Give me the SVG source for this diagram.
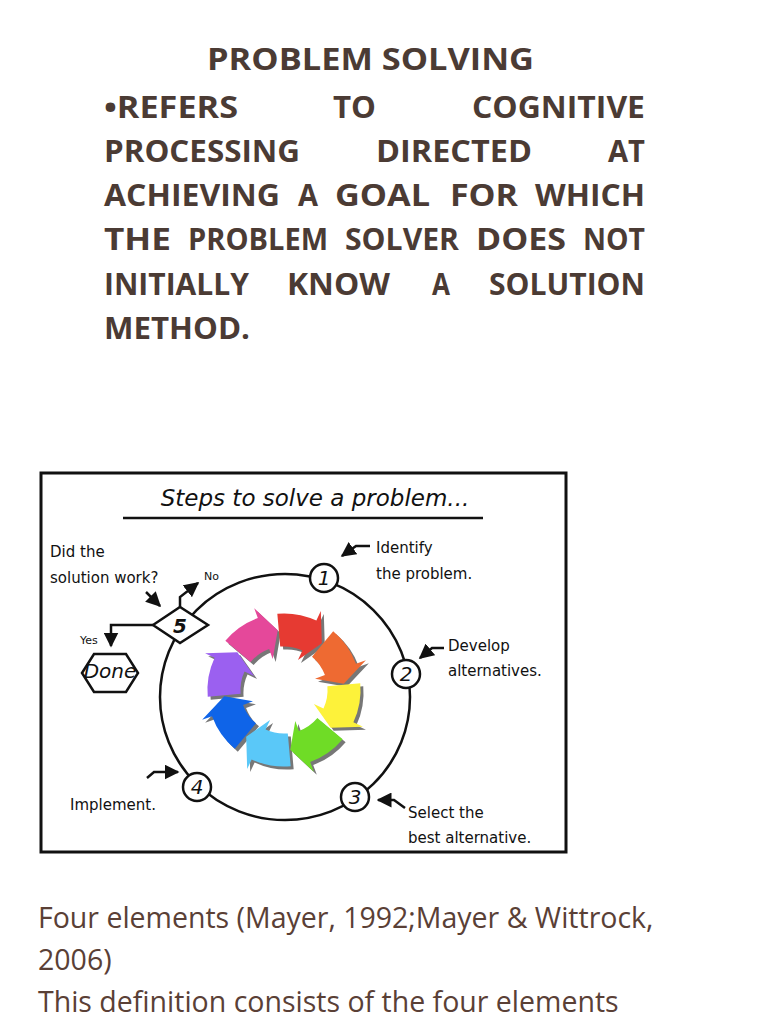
<svg xmlns="http://www.w3.org/2000/svg" width="768" height="1024" viewBox="0 0 768 1024">
<style>
.h{font-family:"Open Sans",sans-serif;font-weight:bold;font-size:30px;fill:#4b3b34}
.b{font-family:"Open Sans",sans-serif;font-size:28.5px;fill:#5a4036}
.c{font-family:"DejaVu Sans",sans-serif;font-size:15px;fill:#111}
.n{font-family:"DejaVu Sans",sans-serif;font-size:20px;font-style:italic;fill:#111;text-anchor:middle}
.ln{fill:none;stroke:#111;stroke-width:2.5}
.nd{fill:#fff;stroke:#111;stroke-width:2.5}
</style>
<defs>
<path id="seg" d="M58,0 A58,58 0 0 1 50.23,29 L57.16,33 L32.73,31.61 L21.65,12.5 L28.58,16.5 A33,33 0 0 0 33,0 Z"/>
<marker id="ah" viewBox="0 0 10 10" refX="9" refY="5" markerWidth="6" markerHeight="6" orient="auto"><path d="M0,0L10,5L0,10z" fill="#111"/></marker>
</defs>
<rect width="768" height="1024" fill="#fff"/>
<g class="h" font-size="31">
<text x="207" y="70" textLength="327" lengthAdjust="spacingAndGlyphs">PROBLEM SOLVING</text>
<text x="104" y="118" textLength="134" lengthAdjust="spacingAndGlyphs">•REFERS</text><text x="333" y="118" textLength="43" lengthAdjust="spacingAndGlyphs">TO</text><text x="472" y="118" textLength="173" lengthAdjust="spacingAndGlyphs">COGNITIVE</text>
<text x="104" y="162" textLength="196" lengthAdjust="spacingAndGlyphs">PROCESSING</text><text x="376" y="162" textLength="156" lengthAdjust="spacingAndGlyphs">DIRECTED</text><text x="608" y="162" textLength="37" lengthAdjust="spacingAndGlyphs">AT</text>
<text x="104" y="206" textLength="176" lengthAdjust="spacingAndGlyphs">ACHIEVING</text><text x="298" y="206" textLength="20" lengthAdjust="spacingAndGlyphs">A</text><text x="335" y="206" textLength="95" lengthAdjust="spacingAndGlyphs">GOAL</text><text x="450" y="206" textLength="68" lengthAdjust="spacingAndGlyphs">FOR</text><text x="535" y="206" textLength="110" lengthAdjust="spacingAndGlyphs">WHICH</text>
<text x="104" y="250" textLength="67" lengthAdjust="spacingAndGlyphs">THE</text><text x="188" y="250" textLength="140" lengthAdjust="spacingAndGlyphs">PROBLEM</text><text x="345" y="250" textLength="114" lengthAdjust="spacingAndGlyphs">SOLVER</text><text x="476" y="250" textLength="90" lengthAdjust="spacingAndGlyphs">DOES</text><text x="583" y="250" textLength="62" lengthAdjust="spacingAndGlyphs">NOT</text>
<text x="104" y="295" textLength="145" lengthAdjust="spacingAndGlyphs">INITIALLY</text><text x="287" y="295" textLength="103" lengthAdjust="spacingAndGlyphs">KNOW</text><text x="432" y="295" textLength="18" lengthAdjust="spacingAndGlyphs">A</text><text x="489" y="295" textLength="156" lengthAdjust="spacingAndGlyphs">SOLUTION</text>
<text x="104" y="339" textLength="146" lengthAdjust="spacingAndGlyphs">METHOD.</text>
</g>
<rect x="41" y="473" width="525" height="379" fill="#fff" stroke="#111" stroke-width="3"/>
<text x="315" y="506" font-family="DejaVu Sans,sans-serif" font-style="italic" font-size="23" text-anchor="middle" fill="#111">Steps to solve a problem...</text>
<line x1="123" y1="518" x2="483" y2="518" stroke="#111" stroke-width="2.5"/>
<g id="ring">
<g transform="translate(287,693) scale(1.32)" fill="#777">
<use href="#seg" transform="rotate(-95)"/><use href="#seg" transform="rotate(-50)"/><use href="#seg" transform="rotate(-5)"/><use href="#seg" transform="rotate(40)"/><use href="#seg" transform="rotate(85)"/><use href="#seg" transform="rotate(130)"/><use href="#seg" transform="rotate(175)"/><use href="#seg" transform="rotate(220)"/>
</g>
<g transform="translate(284,690) scale(1.32)">
<use href="#seg" transform="rotate(-95)" fill="#e63a32"/><use href="#seg" transform="rotate(-50)" fill="#ee6a32"/><use href="#seg" transform="rotate(-5)" fill="#fdf23a"/><use href="#seg" transform="rotate(40)" fill="#6fdc26"/><use href="#seg" transform="rotate(85)" fill="#5ac8f8"/><use href="#seg" transform="rotate(130)" fill="#0f64e8"/><use href="#seg" transform="rotate(175)" fill="#9b60f0"/><use href="#seg" transform="rotate(220)" fill="#e5489a"/>
</g>
</g>
<g id="connectors">
<ellipse class="ln" cx="285" cy="697" rx="125" ry="123"/>
<path class="ln" d="M153,625 H111 V646" marker-end="url(#ah)" stroke-width="2"/>
<path class="ln" d="M180,612 V597 L198,583" marker-end="url(#ah)" stroke-width="2"/>
<path class="ln" d="M146,592 L160,606" marker-end="url(#ah)" stroke-width="2"/>
<path class="ln" d="M370,546 H356 L342,556" marker-end="url(#ah)" stroke-width="2"/>
<path class="ln" d="M444,648 H432 L420,658" marker-end="url(#ah)" stroke-width="2"/>
<path class="ln" d="M405,808 L394,800 H378" marker-end="url(#ah)" stroke-width="2"/>
<path class="ln" d="M147,778 L154,772 H178" marker-end="url(#ah)" stroke-width="2"/>
</g>
<g id="n1"><circle class="nd" cx="324" cy="578" r="14"/><text class="n" x="324" y="585">1</text></g>
<g id="n2"><circle class="nd" cx="406" cy="674" r="14"/><text class="n" x="406" y="681">2</text></g>
<g id="n3"><circle class="nd" cx="355" cy="797" r="14"/><text class="n" x="355" y="804">3</text></g>
<g id="n4"><circle class="nd" cx="197" cy="787" r="14"/><text class="n" x="197" y="794">4</text></g>
<g id="n5"><path class="nd" d="M153,625 L180,607 L208,625 L180,643 Z"/><text class="n" x="180" y="633" font-weight="bold">5</text></g>
<g id="done"><path class="nd" d="M82,673 L94,654 H126 L138,673 L126,692 H94 Z"/><text class="n" x="110" y="678" font-size="13">Done</text></g>
<g class="c">
<text x="50" y="557">Did the</text><text x="50" y="583">solution work?</text>
<text x="204" y="580" font-size="11">No</text><text x="80" y="644" font-size="11">Yes</text>
<text x="376" y="553">Identify</text><text x="376" y="579">the problem.</text>
<text x="448" y="651">Develop</text><text x="448" y="676">alternatives.</text>
<text x="408" y="818">Select the</text><text x="408" y="843">best alternative.</text>
<text x="70" y="810">Implement.</text>
</g>
<text class="b" x="38" y="928">Four elements (Mayer, 1992;Mayer &amp; Wittrock,</text>
<text class="b" x="38" y="970">2006)</text>
<text class="b" x="38" y="1012">This definition consists of the four elements</text>
</svg>
